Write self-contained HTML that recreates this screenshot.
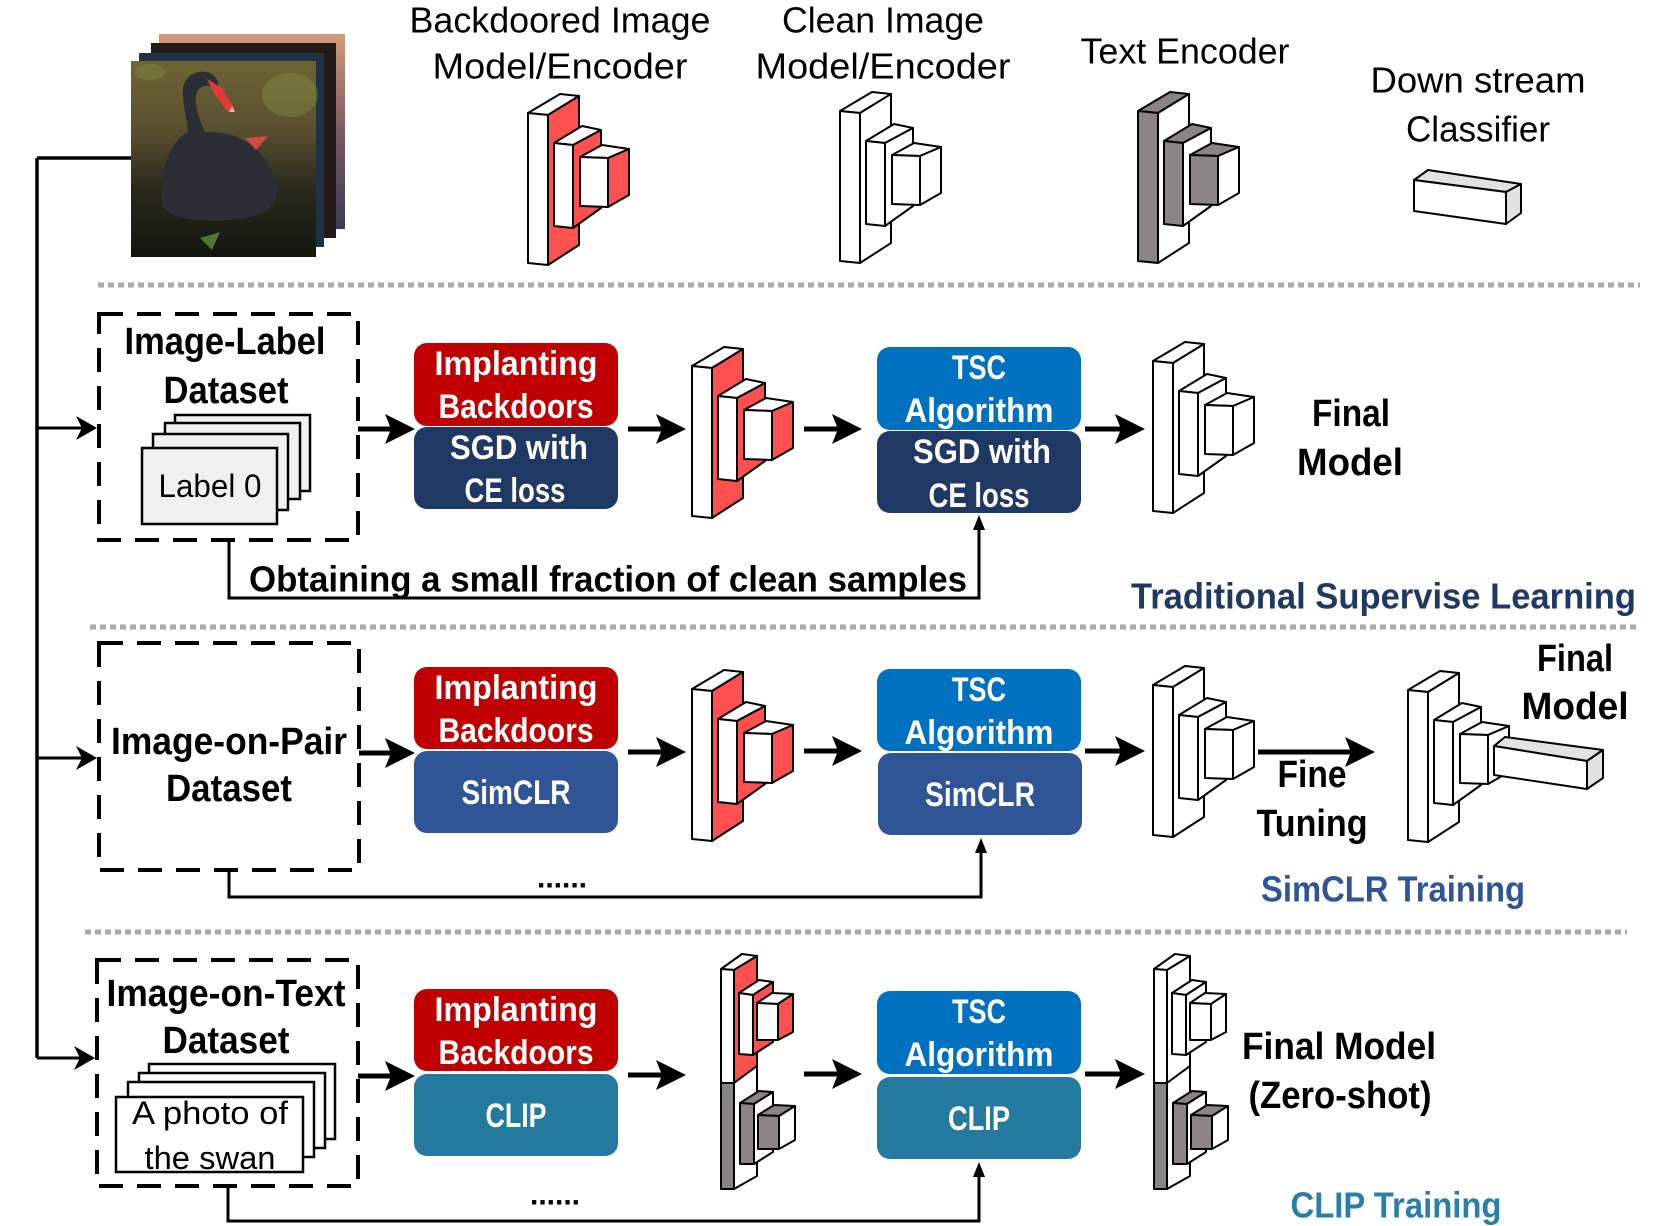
<!DOCTYPE html>
<html><head><meta charset="utf-8"><style>
html,body{margin:0;padding:0;background:#fff;}
svg{display:block;}
text{font-family:"Liberation Sans",sans-serif;}
.b{font-weight:bold;}
.w{fill:#fff;}
.enc polygon{stroke:#000;stroke-width:2;stroke-linejoin:round;}
</style></head><body>
<svg width="1661" height="1226" viewBox="0 0 1661 1226" xmlns="http://www.w3.org/2000/svg">
<defs>
<marker id="ah" markerWidth="6" markerHeight="6" refX="4" refY="3" orient="auto" markerUnits="strokeWidth"><path d="M0,0 L6,3 L0,6 L1.2,3 Z" fill="#000"/></marker>
<marker id="ah2" markerWidth="8" markerHeight="8" refX="6" refY="4" orient="auto" markerUnits="strokeWidth"><path d="M0,0 L7,4 L0,8 L2,4 Z" fill="#000"/></marker>
<g id="enc" class="enc">
<polygon points="0,19 32,0 51,2 20,21" style="fill:var(--fr)"/>
<polygon points="20,21 51,2 51,151 20,171" style="fill:var(--sd)"/>
<polygon points="0,19 20,21 20,171 0,169" style="fill:var(--fr)"/>
<polygon points="26,49 54,32 73,36 45,51" style="fill:var(--fr)"/>
<polygon points="45,51 73,36 73,114 45,134" style="fill:var(--sd)"/>
<polygon points="26,49 45,51 45,134 26,132" style="fill:var(--fr)"/>
<polygon points="52,63 74,51 101,55 80,64" style="fill:var(--fr)"/>
<polygon points="80,64 101,55 101,101 80,113" style="fill:var(--sd)"/>
<polygon points="52,63 80,64 80,113 52,112" style="fill:var(--fr)"/>
</g>
<g id="clipm" class="enc">
<polygon points="0,15 21,0 36,2 13,16" style="fill:#fff"/>
<polygon points="13,16 36,2 36,112 13,129" style="fill:var(--sd)"/>
<polygon points="13,129 36,112 36,222 13,235" fill="#fff"/>
<polygon points="0,15 13,16 13,129 0,129" fill="#fff"/>
<polygon points="0,129 13,129 13,235 0,235" fill="#8a8484"/>
<polygon points="18,39 38,26 52,28 32,41" fill="#fff"/>
<polygon points="32,41 52,28 52,88 32,101" style="fill:var(--sd)"/>
<polygon points="18,39 32,41 32,101 18,100" fill="#fff"/>
<polygon points="36,49 51,39 72,40 57,50" fill="#fff"/>
<polygon points="57,50 72,40 72,78 57,86" style="fill:var(--sd)"/>
<polygon points="36,49 57,50 57,86 36,86" fill="#fff"/>
<polygon points="19,149 38,137 52,138 33,150" fill="#8a8484"/>
<polygon points="33,150 52,138 52,198 33,210" fill="#fff"/>
<polygon points="19,149 33,150 33,210 19,210" fill="#8a8484"/>
<polygon points="37,161 53,151 74,152 58,162" fill="#8a8484"/>
<polygon points="58,162 74,152 74,186 58,195" fill="#fff"/>
<polygon points="37,161 58,162 58,195 37,195" fill="#8a8484"/>
</g>
<linearGradient id="water" x1="0" y1="0" x2="0" y2="1">
<stop offset="0" stop-color="#6e6434"/><stop offset="0.35" stop-color="#5a5030"/><stop offset="0.65" stop-color="#2a2a1c"/><stop offset="1" stop-color="#121610"/>
</linearGradient>
<linearGradient id="sky" x1="0" y1="0" x2="0" y2="1">
<stop offset="0" stop-color="#d49a7a"/><stop offset="0.5" stop-color="#7a5a60"/><stop offset="1" stop-color="#3a3a5a"/>
</linearGradient>
</defs>

<!-- swan images -->
<rect x="159" y="34" width="186" height="195" fill="url(#sky)"/>
<rect x="151" y="43" width="185" height="195" fill="#231c16"/>
<rect x="139" y="53" width="185" height="194" fill="#1f3344"/>
<rect x="131" y="61" width="185" height="196" fill="url(#water)"/>
<ellipse cx="290" cy="95" rx="28" ry="22" fill="#8a9a48" opacity="0.35"/>
<ellipse cx="150" cy="72" rx="16" ry="8" fill="#8a9a40" opacity="0.3"/>
<path d="M162,205 C158,175 170,140 188,132 C186,115 182,100 183,88 C185,76 196,70 207,72 C215,74 220,82 218,88 L210,86 C200,84 194,92 196,104 C198,116 202,126 205,132 C240,130 268,150 277,185 C280,205 265,218 230,220 C195,222 168,218 162,205 Z" fill="#2b2f35"/>
<path d="M207,79 L222,88 L234,108 L228,112 L215,95 Z" fill="#e23a3a"/>
<path d="M232,106 L235,112 L229,112 Z" fill="#f0b0b0"/>
<path d="M245,138 L268,136 L256,150 Z" fill="#d44a40"/>
<path d="M200,238 L220,232 L212,250 Z" fill="#6a9a40" opacity="0.7"/>
<line x1="37" y1="158" x2="131" y2="158" stroke="#000" stroke-width="3.5"/>

<!-- top labels -->
<text x="560" y="20" font-size="36" text-anchor="middle" dominant-baseline="central" textLength="301" lengthAdjust="spacingAndGlyphs">Backdoored Image</text>
<text x="560" y="66" font-size="36" text-anchor="middle" dominant-baseline="central" textLength="255" lengthAdjust="spacingAndGlyphs">Model/Encoder</text>
<text x="883" y="20" font-size="36" text-anchor="middle" dominant-baseline="central" textLength="202" lengthAdjust="spacingAndGlyphs">Clean Image</text>
<text x="883" y="66" font-size="36" text-anchor="middle" dominant-baseline="central" textLength="255" lengthAdjust="spacingAndGlyphs">Model/Encoder</text>
<text x="1185" y="51" font-size="36" text-anchor="middle" dominant-baseline="central" textLength="209" lengthAdjust="spacingAndGlyphs">Text Encoder</text>
<text x="1478" y="80" font-size="36" text-anchor="middle" dominant-baseline="central" textLength="215" lengthAdjust="spacingAndGlyphs">Down stream</text>
<text x="1478" y="129" font-size="36" text-anchor="middle" dominant-baseline="central" textLength="144" lengthAdjust="spacingAndGlyphs">Classifier</text>

<use href="#enc" x="528" y="94" style="--fr:#fff;--sd:#ff5050"/>
<use href="#enc" x="840" y="92" style="--fr:#fff;--sd:#fff"/>
<use href="#enc" x="1138" y="92" style="--fr:#8a8484;--sd:#fff"/>
<g class="enc">
<polygon points="1414,180 1428,170 1521,184 1506,192" fill="#e2e2e2"/>
<polygon points="1506,192 1521,184 1521,213 1506,224" fill="#e2e2e2"/>
<polygon points="1414,180 1506,192 1506,224 1414,211" fill="#fff"/>
</g>

<!-- dotted separators -->
<line x1="98" y1="285" x2="1640" y2="285" stroke="#aaa" stroke-width="5" stroke-dasharray="6 4"/>
<line x1="90" y1="627" x2="1640" y2="627" stroke="#aaa" stroke-width="5" stroke-dasharray="6 4"/>
<line x1="85" y1="932" x2="1627" y2="932" stroke="#aaa" stroke-width="5" stroke-dasharray="6 4"/>

<!-- left trunk -->
<polyline points="37,158 37,1058" fill="none" stroke="#000" stroke-width="3.5"/>
<line x1="37" y1="428" x2="94" y2="428" stroke="#000" stroke-width="3" marker-end="url(#ah2)"/>
<line x1="37" y1="758" x2="94" y2="758" stroke="#000" stroke-width="3" marker-end="url(#ah2)"/>
<line x1="37" y1="1058" x2="92" y2="1058" stroke="#000" stroke-width="3" marker-end="url(#ah2)"/>

<!-- ROW 1 -->
<rect x="99" y="314" width="259" height="226" fill="none" stroke="#000" stroke-width="4" stroke-dasharray="24 14"/>
<text class="b" x="225" y="342" font-size="38" text-anchor="middle" dominant-baseline="central" textLength="201" lengthAdjust="spacingAndGlyphs">Image-Label</text>
<text class="b" x="226" y="391" font-size="38" text-anchor="middle" dominant-baseline="central" textLength="125" lengthAdjust="spacingAndGlyphs">Dataset</text>
<g stroke="#000" stroke-width="2.5" fill="#f0f0f0">
<rect x="175" y="415" width="135" height="76"/>
<rect x="165" y="423" width="135" height="76"/>
<rect x="153" y="434" width="135" height="76"/>
<rect x="142" y="448" width="135" height="76"/>
</g>
<text x="210" y="486" font-size="32" text-anchor="middle" dominant-baseline="central" textLength="103" lengthAdjust="spacingAndGlyphs">Label 0</text>
<line x1="358" y1="429" x2="405" y2="429" stroke="#000" stroke-width="5" marker-end="url(#ah)"/>
<rect x="414" y="343" width="204" height="83" rx="13" fill="#c00000"/>
<rect x="414" y="427" width="204" height="82" rx="13" fill="#203864"/>
<text class="b w" x="516" y="364" font-size="34" text-anchor="middle" dominant-baseline="central" textLength="163" lengthAdjust="spacingAndGlyphs">Implanting</text>
<text class="b w" x="516" y="407" font-size="34" text-anchor="middle" dominant-baseline="central" textLength="155" lengthAdjust="spacingAndGlyphs">Backdoors</text>
<text class="b w" x="519" y="448" font-size="34" text-anchor="middle" dominant-baseline="central" textLength="138" lengthAdjust="spacingAndGlyphs">SGD with</text>
<text class="b w" x="515" y="491" font-size="34" text-anchor="middle" dominant-baseline="central" textLength="101" lengthAdjust="spacingAndGlyphs">CE loss</text>
<line x1="628" y1="429" x2="676" y2="429" stroke="#000" stroke-width="5" marker-end="url(#ah)"/>
<use href="#enc" x="692" y="347" style="--fr:#fff;--sd:#ff5050"/>
<line x1="804" y1="429" x2="852" y2="429" stroke="#000" stroke-width="5" marker-end="url(#ah)"/>
<rect x="877" y="347" width="204" height="83" rx="13" fill="#0070c0"/>
<rect x="877" y="431" width="204" height="82" rx="13" fill="#203864"/>
<text class="b w" x="979" y="368" font-size="34" text-anchor="middle" dominant-baseline="central" textLength="54" lengthAdjust="spacingAndGlyphs">TSC</text>
<text class="b w" x="979" y="411" font-size="34" text-anchor="middle" dominant-baseline="central" textLength="149" lengthAdjust="spacingAndGlyphs">Algorithm</text>
<text class="b w" x="982" y="452" font-size="34" text-anchor="middle" dominant-baseline="central" textLength="138" lengthAdjust="spacingAndGlyphs">SGD with</text>
<text class="b w" x="979" y="496" font-size="34" text-anchor="middle" dominant-baseline="central" textLength="101" lengthAdjust="spacingAndGlyphs">CE loss</text>
<line x1="1085" y1="429" x2="1135" y2="429" stroke="#000" stroke-width="5" marker-end="url(#ah)"/>
<use href="#enc" x="1153" y="342" style="--fr:#fff;--sd:#fff"/>
<text class="b" x="1351" y="414" font-size="38" text-anchor="middle" dominant-baseline="central" textLength="78" lengthAdjust="spacingAndGlyphs">Final</text>
<text class="b" x="1350" y="463" font-size="38" text-anchor="middle" dominant-baseline="central" textLength="106" lengthAdjust="spacingAndGlyphs">Model</text>
<polyline points="229,540 229,598 979,598 979,525" fill="none" stroke="#000" stroke-width="3"/>
<path d="M979,515 L973,530 L985,530 Z" fill="#000"/>
<text class="b" x="249" y="579" font-size="36" dominant-baseline="central" textLength="718" lengthAdjust="spacingAndGlyphs">Obtaining a small fraction of clean samples</text>
<text class="b" x="1131" y="596" font-size="36" dominant-baseline="central" fill="#203864" textLength="505" lengthAdjust="spacingAndGlyphs">Traditional Supervise Learning</text>

<!-- ROW 2 -->
<rect x="99" y="643" width="260" height="227" fill="none" stroke="#000" stroke-width="4" stroke-dasharray="24 14"/>
<text class="b" x="229" y="742" font-size="38" text-anchor="middle" dominant-baseline="central" textLength="236" lengthAdjust="spacingAndGlyphs">Image-on-Pair</text>
<text class="b" x="229" y="789" font-size="38" text-anchor="middle" dominant-baseline="central" textLength="126" lengthAdjust="spacingAndGlyphs">Dataset</text>
<line x1="359" y1="753" x2="405" y2="753" stroke="#000" stroke-width="5" marker-end="url(#ah)"/>
<rect x="414" y="667" width="204" height="82" rx="13" fill="#c00000"/>
<rect x="414" y="751" width="204" height="82" rx="13" fill="#2f5597"/>
<text class="b w" x="516" y="688" font-size="34" text-anchor="middle" dominant-baseline="central" textLength="163" lengthAdjust="spacingAndGlyphs">Implanting</text>
<text class="b w" x="516" y="731" font-size="34" text-anchor="middle" dominant-baseline="central" textLength="155" lengthAdjust="spacingAndGlyphs">Backdoors</text>
<text class="b w" x="516" y="793" font-size="34" text-anchor="middle" dominant-baseline="central" textLength="109" lengthAdjust="spacingAndGlyphs">SimCLR</text>
<line x1="628" y1="752" x2="676" y2="752" stroke="#000" stroke-width="5" marker-end="url(#ah)"/>
<use href="#enc" x="692" y="670" style="--fr:#fff;--sd:#ff5050"/>
<line x1="804" y1="751" x2="852" y2="751" stroke="#000" stroke-width="5" marker-end="url(#ah)"/>
<rect x="877" y="669" width="204" height="82" rx="13" fill="#0070c0"/>
<rect x="878" y="753" width="204" height="82" rx="13" fill="#2f5597"/>
<text class="b w" x="979" y="690" font-size="34" text-anchor="middle" dominant-baseline="central" textLength="54" lengthAdjust="spacingAndGlyphs">TSC</text>
<text class="b w" x="979" y="733" font-size="34" text-anchor="middle" dominant-baseline="central" textLength="149" lengthAdjust="spacingAndGlyphs">Algorithm</text>
<text class="b w" x="980" y="795" font-size="34" text-anchor="middle" dominant-baseline="central" textLength="110" lengthAdjust="spacingAndGlyphs">SimCLR</text>
<line x1="1085" y1="751" x2="1135" y2="751" stroke="#000" stroke-width="5" marker-end="url(#ah)"/>
<use href="#enc" x="1153" y="666" style="--fr:#fff;--sd:#fff"/>
<line x1="1258" y1="752" x2="1365" y2="752" stroke="#000" stroke-width="5" marker-end="url(#ah)"/>
<text class="b" x="1312" y="775" font-size="38" text-anchor="middle" dominant-baseline="central" textLength="69" lengthAdjust="spacingAndGlyphs">Fine</text>
<text class="b" x="1312" y="824" font-size="38" text-anchor="middle" dominant-baseline="central" textLength="111" lengthAdjust="spacingAndGlyphs">Tuning</text>
<use href="#enc" x="1408" y="671" style="--fr:#fff;--sd:#fff"/>
<g class="enc">
<polygon points="1494,746 1505,737 1603,750 1587,761" fill="#e2e2e2"/>
<polygon points="1587,761 1603,750 1603,778 1587,789" fill="#e2e2e2"/>
<polygon points="1494,746 1587,761 1587,789 1494,775" fill="#fff"/>
</g>
<text class="b" x="1575" y="659" font-size="38" text-anchor="middle" dominant-baseline="central" textLength="76" lengthAdjust="spacingAndGlyphs">Final</text>
<text class="b" x="1575" y="707" font-size="38" text-anchor="middle" dominant-baseline="central" textLength="107" lengthAdjust="spacingAndGlyphs">Model</text>
<polyline points="229,870 229,897 981,897 981,848" fill="none" stroke="#000" stroke-width="3"/>
<path d="M981,838 L975,853 L987,853 Z" fill="#000"/>
<text class="b" x="562" y="878" font-size="30" text-anchor="middle" dominant-baseline="central">......</text>
<text class="b" x="1393" y="889" font-size="36" text-anchor="middle" dominant-baseline="central" fill="#2f5597" textLength="264" lengthAdjust="spacingAndGlyphs">SimCLR Training</text>

<!-- ROW 3 -->
<rect x="97" y="960" width="261" height="226" fill="none" stroke="#000" stroke-width="4" stroke-dasharray="24 14"/>
<text class="b" x="226" y="994" font-size="38" text-anchor="middle" dominant-baseline="central" textLength="239" lengthAdjust="spacingAndGlyphs">Image-on-Text</text>
<text class="b" x="226" y="1041" font-size="38" text-anchor="middle" dominant-baseline="central" textLength="127" lengthAdjust="spacingAndGlyphs">Dataset</text>
<g stroke="#000" stroke-width="2.5" fill="#fff">
<rect x="149" y="1064" width="186" height="75"/>
<rect x="139" y="1073" width="186" height="75"/>
<rect x="128" y="1082" width="186" height="75"/>
<rect x="116" y="1097" width="187" height="75"/>
</g>
<text x="210" y="1113" font-size="32" text-anchor="middle" dominant-baseline="central" textLength="156" lengthAdjust="spacingAndGlyphs">A photo of</text>
<text x="210" y="1158" font-size="32" text-anchor="middle" dominant-baseline="central" textLength="131" lengthAdjust="spacingAndGlyphs">the swan</text>
<line x1="358" y1="1076" x2="405" y2="1076" stroke="#000" stroke-width="5" marker-end="url(#ah)"/>
<rect x="414" y="989" width="204" height="82" rx="13" fill="#c00000"/>
<rect x="414" y="1074" width="204" height="82" rx="13" fill="#237a9e"/>
<text class="b w" x="516" y="1010" font-size="34" text-anchor="middle" dominant-baseline="central" textLength="163" lengthAdjust="spacingAndGlyphs">Implanting</text>
<text class="b w" x="516" y="1053" font-size="34" text-anchor="middle" dominant-baseline="central" textLength="155" lengthAdjust="spacingAndGlyphs">Backdoors</text>
<text class="b w" x="516" y="1116" font-size="34" text-anchor="middle" dominant-baseline="central" textLength="61" lengthAdjust="spacingAndGlyphs">CLIP</text>
<line x1="628" y1="1075" x2="676" y2="1075" stroke="#000" stroke-width="5" marker-end="url(#ah)"/>
<use href="#clipm" x="721" y="954" style="--sd:#ff5050"/>
<line x1="804" y1="1074" x2="852" y2="1074" stroke="#000" stroke-width="5" marker-end="url(#ah)"/>
<rect x="877" y="991" width="204" height="83" rx="13" fill="#0070c0"/>
<rect x="877" y="1077" width="204" height="82" rx="13" fill="#237a9e"/>
<text class="b w" x="979" y="1012" font-size="34" text-anchor="middle" dominant-baseline="central" textLength="54" lengthAdjust="spacingAndGlyphs">TSC</text>
<text class="b w" x="979" y="1055" font-size="34" text-anchor="middle" dominant-baseline="central" textLength="149" lengthAdjust="spacingAndGlyphs">Algorithm</text>
<text class="b w" x="979" y="1119" font-size="34" text-anchor="middle" dominant-baseline="central" textLength="62" lengthAdjust="spacingAndGlyphs">CLIP</text>
<line x1="1085" y1="1074" x2="1135" y2="1074" stroke="#000" stroke-width="5" marker-end="url(#ah)"/>
<use href="#clipm" x="1154" y="954" style="--sd:#fff"/>
<text class="b" x="1339" y="1047" font-size="38" text-anchor="middle" dominant-baseline="central" textLength="194" lengthAdjust="spacingAndGlyphs">Final Model</text>
<text class="b" x="1340" y="1096" font-size="38" text-anchor="middle" dominant-baseline="central" textLength="183" lengthAdjust="spacingAndGlyphs">(Zero-shot)</text>
<polyline points="228,1186 228,1221 979,1221 979,1172" fill="none" stroke="#000" stroke-width="3"/>
<path d="M979,1162 L973,1177 L985,1177 Z" fill="#000"/>
<text class="b" x="555" y="1195" font-size="30" text-anchor="middle" dominant-baseline="central">......</text>
<text class="b" x="1396" y="1205" font-size="36" text-anchor="middle" dominant-baseline="central" fill="#2a7fa8" textLength="211" lengthAdjust="spacingAndGlyphs">CLIP Training</text>
</svg>
</body></html>
